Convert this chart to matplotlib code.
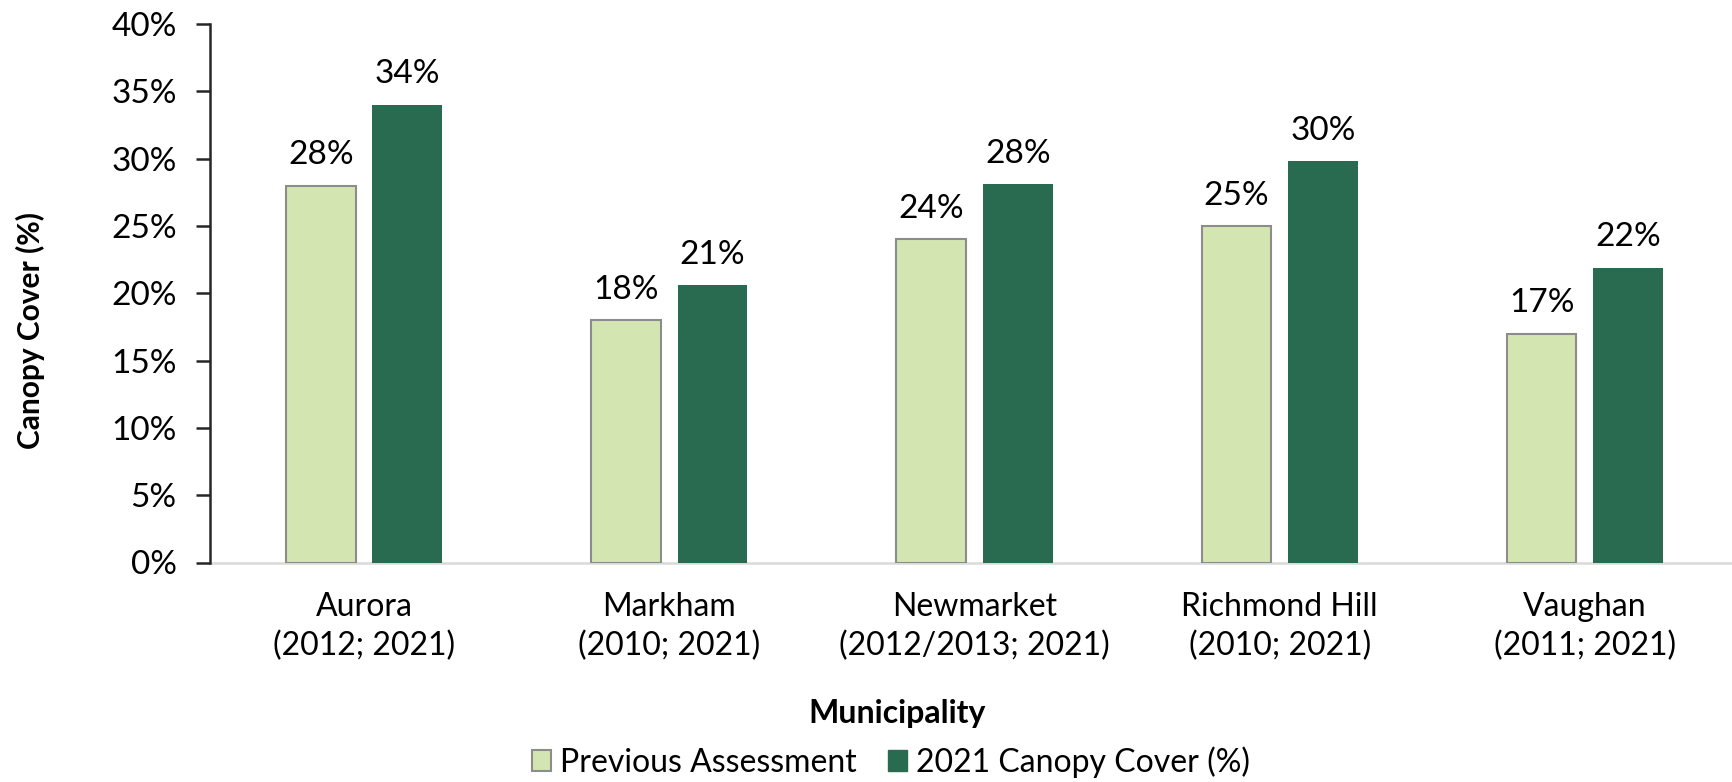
import matplotlib
matplotlib.use("Agg")
import matplotlib.pyplot as plt
from matplotlib.patches import Patch
from matplotlib.ticker import PercentFormatter
import numpy as np

# Canopy cover by municipality (fractions)
municipalities = ["Aurora", "Markham", "Newmarket", "Richmond Hill", "Vaughan"]
assessment_years = ["(2012; 2021)", "(2010; 2021)", "(2012/2013; 2021)",
                    "(2010; 2021)", "(2011; 2021)"]
previous_cover = [0.28, 0.18, 0.24, 0.25, 0.17]
cover_2021 = [0.34, 0.206, 0.281, 0.298, 0.219]
series_names = ["Previous Assessment", "2021 Canopy Cover (%)"]

LIGHT = "#D3E6B2"
LIGHT_EDGE = "#8C8C8C"
DARK = "#296B50"

plt.rcParams["font.family"] = ["Lato", "DejaVu Sans"]
FS_TEXT = 23
FS_NUM = 24

fig = plt.figure(figsize=(17.33, 7.82), dpi=100)
ax = fig.add_axes([210 / 1733, 1 - 562.5 / 782, 1 - 210 / 1733, (562.5 - 24) / 782])

x = np.arange(len(municipalities))
width = 0.228
off = 0.1418
b1 = ax.bar(x - off, previous_cover, width, color=LIGHT, edgecolor=LIGHT_EDGE,
            linewidth=1.5, zorder=3)
b2 = ax.bar(x + off, cover_2021, width, color=DARK, edgecolor=DARK,
            linewidth=0, zorder=3)

for bars, vals in ((b1, previous_cover), (b2, cover_2021)):
    for rect, v in zip(bars, vals):
        ax.annotate(f"{v * 100:.0f}%", (rect.get_x() + rect.get_width() / 2, v),
                    xytext=(0, 11), textcoords="offset points",
                    ha="center", va="bottom", fontsize=FS_NUM, color="black")

ax.set_xlim(-0.5045, 4.485)
ax.set_ylim(0, 0.40)
ax.set_yticks(np.arange(0, 0.401, 0.05))
ax.yaxis.set_major_formatter(PercentFormatter(1.0, decimals=0))
ax.set_xticks(x)
ax.set_xticklabels([f"{m}\n{y}" for m, y in zip(municipalities, assessment_years)],
                   fontsize=FS_TEXT, linespacing=1.38)
ax.tick_params(axis="x", length=0, pad=21)
ax.tick_params(axis="y", length=10, width=1.8, color="#262626", pad=14,
               labelsize=FS_NUM, direction="out")

for s in ("top", "right"):
    ax.spines[s].set_visible(False)
ax.spines["left"].set_color("#262626")
ax.spines["left"].set_linewidth(1.8)
ax.spines["bottom"].set_color("#D9D9D9")
ax.spines["bottom"].set_linewidth(1.8)
ax.spines["bottom"].set_zorder(1)

fig.text(30 / 1733, 1 - 330 / 782, "Canopy Cover (%)", rotation=90,
         ha="center", va="center", fontsize=21.5, fontweight="bold")
fig.text(897 / 1733, 1 - 713 / 782, "Municipality", ha="center", va="center",
         fontsize=FS_TEXT, fontweight="bold")

handles = [Patch(facecolor=LIGHT, edgecolor=LIGHT_EDGE, linewidth=1.5),
           Patch(facecolor=DARK, edgecolor=DARK)]
fig.legend(handles, series_names, loc="center", ncol=2,
           bbox_to_anchor=(891 / 1733, 1 - 762 / 782), frameon=False,
           fontsize=FS_TEXT, handlelength=0.6, handleheight=0.6, handletextpad=0.3,
           columnspacing=0.95)

fig.savefig("out.png", dpi=100)
